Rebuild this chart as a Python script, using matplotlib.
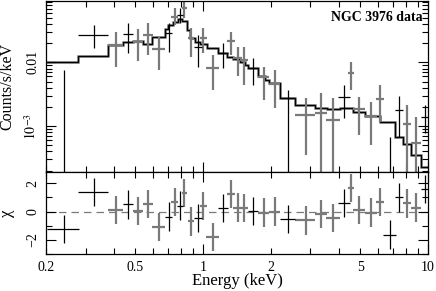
import numpy as np
import matplotlib
matplotlib.use("Agg")
import matplotlib.pyplot as plt
from matplotlib.ticker import FixedLocator, FixedFormatter, NullFormatter

plt.rcParams["font.family"] = "serif"
plt.rcParams["font.serif"] = ["Liberation Serif", "DejaVu Serif"]
plt.rcParams["mathtext.fontset"] = "stix"

# folded model, stepped on its own grid (keV, counts/s/keV)
model_edges = [0.200, 0.278, 0.377, 0.440, 0.488, 0.542, 0.591, 0.676, 0.700, 0.737,
               0.775, 0.803, 0.845, 0.874, 0.920, 0.968, 1.037, 1.168, 1.273, 1.362,
               1.459, 1.536, 1.588, 1.760, 1.885, 1.969, 2.198, 2.562, 3.146, 3.546,
               4.063, 4.656, 5.248, 6.120, 7.136, 7.725, 8.408, 9.287, 10.0]
model_rate = [0.0100, 0.0128, 0.0190, 0.0212, 0.0216, 0.0196, 0.0252, 0.0330, 0.0385,
              0.0434, 0.0473, 0.0450, 0.0321, 0.0238, 0.0211, 0.0194, 0.0170, 0.0138,
              0.0122, 0.0111, 0.0101, 0.00907, 0.00805, 0.00609, 0.00527, 0.00468,
              0.00272, 0.00214, 0.00190, 0.00183, 0.00190, 0.00168, 0.00144, 0.00117,
              0.000679, 0.000522, 0.000350, 0.000230]

# data bins
e_lo = [0.203, 0.278, 0.379, 0.441, 0.489, 0.542, 0.591, 0.676, 0.719, 0.765, 0.803, 0.854,
        0.911, 0.968, 1.030, 1.168, 1.273, 1.362, 1.459, 1.588, 1.760, 1.969, 2.198, 2.562,
        3.146, 3.520, 3.994, 4.410, 4.656, 5.248, 5.875, 6.310, 7.136, 7.725, 8.408, 9.316]
e_hi = [0.280, 0.379, 0.441, 0.489, 0.542, 0.600, 0.676, 0.729, 0.775, 0.814, 0.848, 0.913,
        0.985, 1.037, 1.180, 1.294, 1.386, 1.485, 1.584, 1.760, 1.969, 2.198, 2.562, 3.146,
        3.546, 4.063, 4.502, 4.690, 5.248, 5.916, 6.377, 7.212, 7.770, 8.408, 9.287, 10.0]
rate = [1e-6, 0.0268, 0.0187, 0.0275, 0.0211, 0.0268, 0.0160, 0.0285, 0.0520, 0.0553,
        0.0704, 0.0238, 0.0176, 0.0243, 0.00823, 0.0141, 0.0216, 0.0118, 0.0107, 0.00805,
        0.00594, 0.00451, 0.00272, 0.00149, 0.00158, 0.00124, 0.00282, 0.00687, 0.00183,
        0.00144, 0.00263, 1e-6, 0.00178, 0.00106, 0.000547, 0.00140]
rate_lo = [1e-6, 0.0166, 0.00853, 0.0141, 0.0105, 0.0130, 0.00757, 0.0147, 0.0385, 0.0410,
           0.0491, 0.0122, 0.00853, 0.0138, 0.00367, 0.00805, 0.0130, 0.00609, 0.00440,
           0.00440, 0.00256, 0.00190, 1e-6, 0.000350, 1e-6, 1e-6, 0.00132, 0.00367,
           0.000722, 0.000503, 0.00117, 1e-6, 0.000679, 1e-6, 1e-6, 0.000776]
rate_hi = [0.00757, 0.0385, 0.0302, 0.0410, 0.0330, 0.0410, 0.0252, 0.0418, 0.0704, 0.0704,
           0.095, 0.0342, 0.0268, 0.0342, 0.0130, 0.0199, 0.0302, 0.0176, 0.0176, 0.0116,
           0.00853, 0.00757, 0.00367, 0.00272, 0.00326, 0.00272, 0.00440, 0.0102, 0.00288,
           0.00241, 0.00440, 0.000679, 0.00296, 0.00214, 0.00140, 0.00214]
chi = [-1.24, 1.40, 0.11, 0.51, 0.04, 0.53, -1.10, -0.35, 0.70, 0.42, 1.33, -0.70,
       -0.47, 0.39, -1.82, 0.23, 1.23, 0.28, 0.23, 0.04, -0.07, 0.0, -0.54, -0.63,
       -0.19, -0.47, 0.63, 1.68, 0.11, -0.07, 0.70, -1.63, 1.0, 0.58, 0.28, 1.6]
# k = black instrument, g = grey instrument
inst = list("kkgkgggkgkggkggkgggkggkgggkggggkkggk")

GREY = "#7a7a7a"


def main():
    lo = np.array(e_lo)
    hi = np.array(e_hi)
    ec = 0.5 * (lo + hi)
    r = np.array(rate)
    rl = np.array(rate_lo)
    rh = np.array(rate_hi)
    c = np.array(chi)
    ins = np.array(inst)

    fig = plt.figure(figsize=(4.36, 2.91), dpi=100)
    ax = fig.add_axes([0.1055, 0.410, 0.8761, 0.5866])
    axr = fig.add_axes([0.1055, 0.1271, 0.8761, 0.2829], sharex=ax)

    ax.stairs(model_rate, model_edges, baseline=None, color=GREY, lw=1.8)
    ax.stairs(model_rate, model_edges, baseline=None, color="k", lw=0.9)

    for key, col, lw in [("g", GREY, 1.6), ("k", "k", 0.9)]:
        m = ins == key
        ax.errorbar(ec[m], r[m], xerr=[ec[m] - lo[m], hi[m] - ec[m]],
                    yerr=[r[m] - rl[m], rh[m] - r[m]],
                    fmt="none", ecolor=col, elinewidth=lw, capsize=0)
        axr.errorbar(ec[m], c[m], xerr=[ec[m] - lo[m], hi[m] - ec[m]],
                     yerr=np.ones(m.sum()), fmt="none", ecolor=col,
                     elinewidth=lw, capsize=0)

    axr.axhline(0, color=GREY, lw=0.9, ls=(0, (6, 4)), zorder=0)

    ax.set_xscale("log")
    ax.set_yscale("log")
    ax.set_xlim(0.2, 10)
    ax.set_ylim(1.92e-4, 0.092)
    axr.set_ylim(-3.0, 2.82)

    # x ticks: long majors at 1 and 10, labels also on some minors
    axr.xaxis.set_major_locator(FixedLocator([1, 10]))
    axr.xaxis.set_major_formatter(FixedFormatter(["1", "10"]))
    minors = [0.2, 0.3, 0.4, 0.5, 0.6, 0.7, 0.8, 0.9, 2, 3, 4, 5, 6, 7, 8, 9]
    mlabels = ["0.2", "", "", "0.5", "", "", "", "", "2", "", "", "5", "", "", "", ""]
    axr.xaxis.set_minor_locator(FixedLocator(minors))
    axr.xaxis.set_minor_formatter(FixedFormatter(mlabels))
    plt.setp(ax.get_xticklabels(which="both"), visible=False)

    ax.yaxis.set_major_locator(FixedLocator([1e-3, 1e-2]))
    ax.yaxis.set_major_formatter(FixedFormatter([r"$10^{-3}$", "0.01"]))
    ymin = [k * 1e-4 for k in range(2, 10)] + [k * 1e-3 for k in range(2, 10)] + \
           [k * 1e-2 for k in range(2, 10)]
    ax.yaxis.set_minor_locator(FixedLocator(ymin))
    ax.yaxis.set_minor_formatter(NullFormatter())

    axr.yaxis.set_major_locator(FixedLocator([-2, 0, 2]))
    axr.yaxis.set_major_formatter(FixedFormatter(["\u22122", "0", "2"]))
    axr.yaxis.set_minor_locator(FixedLocator([-3, -1, 1]))
    axr.yaxis.set_minor_formatter(NullFormatter())

    for a in (ax, axr):
        a.tick_params(which="both", direction="in", top=True, right=True,
                      labelsize=10, width=0.8)
        a.tick_params(which="major", length=7, pad=5)
        a.tick_params(which="minor", length=4.5, pad=5)
        for lab in a.get_yticklabels():
            lab.set_rotation(90)
            lab.set_va("center")
        for s in a.spines.values():
            s.set_linewidth(0.9)

    ax.set_ylabel("Counts/s/keV", fontsize=11.5)
    axr.set_ylabel("\u03c7", fontsize=12)
    ax.yaxis.set_label_coords(-0.080, 0.5)
    axr.yaxis.set_label_coords(-0.080, 0.5)
    axr.set_xlabel("Energy (keV)", fontsize=12)
    axr.xaxis.set_label_coords(0.5, -0.23)

    ax.text(0.987, 0.906, "NGC 3976 data", transform=ax.transAxes,
            ha="right", va="center", fontsize=10, fontweight="bold")

    fig.savefig("out.png", dpi=100)


if __name__ == "__main__":
    main()
